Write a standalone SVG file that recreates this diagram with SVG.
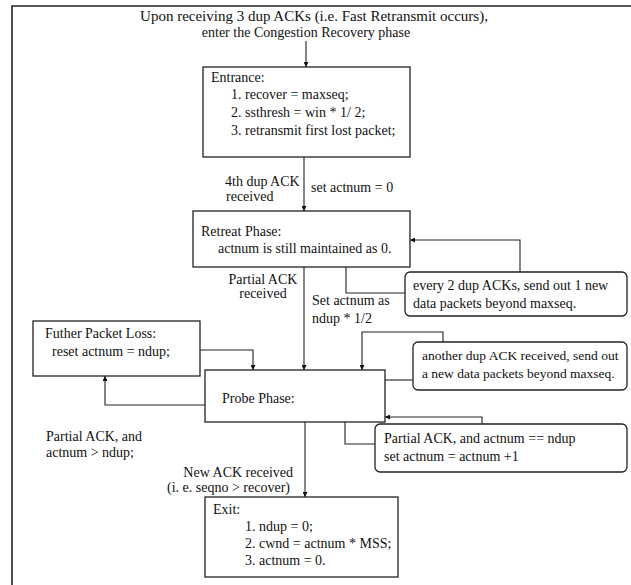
<svg xmlns="http://www.w3.org/2000/svg" width="631" height="585" viewBox="0 0 631 585">
<defs>
<marker id="ah" viewBox="0 0 8 8" refX="8" refY="4" markerWidth="5" markerHeight="5" orient="auto" markerUnits="userSpaceOnUse">
<path d="M0,0 L8,4 L0,8 z" fill="#111"/>
</marker>
<style>
text{font-family:"Liberation Serif","Times New Roman",serif;font-size:14px;fill:#111}
.box{fill:#fff;stroke:#222;stroke-width:1.3}
.note{fill:#fff;stroke:#222;stroke-width:1.3}
.c{fill:none;stroke:#222;stroke-width:1.1}
.a{marker-end:url(#ah)}
.frame{fill:none;stroke:#222;stroke-width:1.6}
</style>
</defs>
<rect width="631" height="585" fill="#fff"/>
<path class="frame" d="M631,6 H12 V585"/>
<g id="title">
<text x="314" y="21" text-anchor="middle" style="font-size:15px">Upon receiving 3 dup ACKs (i.e. Fast Retransmit occurs),</text>
<text x="306" y="37" text-anchor="middle">enter the Congestion Recovery phase</text>
</g>
<g id="connectors">
<path class="c a" d="M306,41 V67"/>
<path class="c a" d="M304,157 V211"/>
<path class="c" d="M346,267 V293 H405"/>
<path class="c a" d="M520,272 V240 H410"/>
<path class="c a" d="M304,267 V370"/>
<path class="c a" d="M200,350 H253 V370"/>
<path class="c a" d="M205,405 H105 V376"/>
<path class="c" d="M385,380 H413"/>
<path class="c a" d="M443,342 V332 H362 V370"/>
<path class="c" d="M345,422 V444 H375"/>
<path class="c a" d="M482,424 V417 H385"/>
<path class="c a" d="M305,422 V497"/>
</g>
<g id="labels">
<text x="225" y="186">4th dup ACK</text>
<text x="226" y="201">received</text>
<text x="311" y="192">set actnum = 0</text>
<text x="263" y="284" text-anchor="middle">Partial ACK</text>
<text x="263" y="298" text-anchor="middle">received</text>
<text x="312" y="305">Set actnum as</text>
<text x="312" y="323">ndup * 1/2</text>
<text x="46" y="441">Partial ACK, and</text>
<text x="46" y="457">actnum &gt; ndup;</text>
<text x="293" y="477" text-anchor="end">New ACK received</text>
<text x="290" y="492" text-anchor="end">(i. e. seqno &gt; recover)</text>
</g>
<g id="entrance">
<rect class="box" x="203" y="67" width="207" height="90"/>
<text x="211" y="82">Entrance:</text>
<text x="231" y="99">1. recover = maxseq;</text>
<text x="231" y="117">2. ssthresh = win * 1/ 2;</text>
<text x="231" y="135">3. retransmit first lost packet;</text>
</g>
<g id="retreat">
<rect class="box" x="193" y="211" width="217" height="56"/>
<text x="201" y="236">Retreat Phase:</text>
<text x="218" y="253">actnum is still maintained as 0.</text>
</g>
<g id="every2">
<rect class="note" x="405" y="272" width="222" height="44" rx="5"/>
<text x="413" y="290">every 2 dup ACKs, send out 1 new</text>
<text x="413" y="308">data packets beyond maxseq.</text>
</g>
<g id="further">
<rect class="box" x="33" y="321" width="167" height="55"/>
<text x="45" y="338">Futher Packet Loss:</text>
<text x="52" y="356">reset actnum = ndup;</text>
</g>
<g id="probe">
<rect class="box" x="205" y="370" width="180" height="52"/>
<text x="222" y="403">Probe Phase:</text>
</g>
<g id="another">
<rect class="note" x="413" y="342" width="214" height="48" rx="5"/>
<text x="422" y="360" style="font-size:13.5px">another dup ACK received, send out</text>
<text x="422" y="378" style="font-size:13.5px">a new data packets beyond maxseq.</text>
</g>
<g id="partial">
<rect class="note" x="375" y="424" width="252" height="48" rx="5"/>
<text x="384" y="443">Partial ACK,  and actnum == ndup</text>
<text x="384" y="461">set actnum =  actnum +1</text>
</g>
<g id="exit">
<rect class="box" x="205" y="497" width="193" height="80"/>
<text x="213" y="514">Exit:</text>
<text x="245" y="531">1. ndup = 0;</text>
<text x="245" y="548">2. cwnd =  actnum * MSS;</text>
<text x="245" y="565">3. actnum = 0.</text>
</g>
</svg>
